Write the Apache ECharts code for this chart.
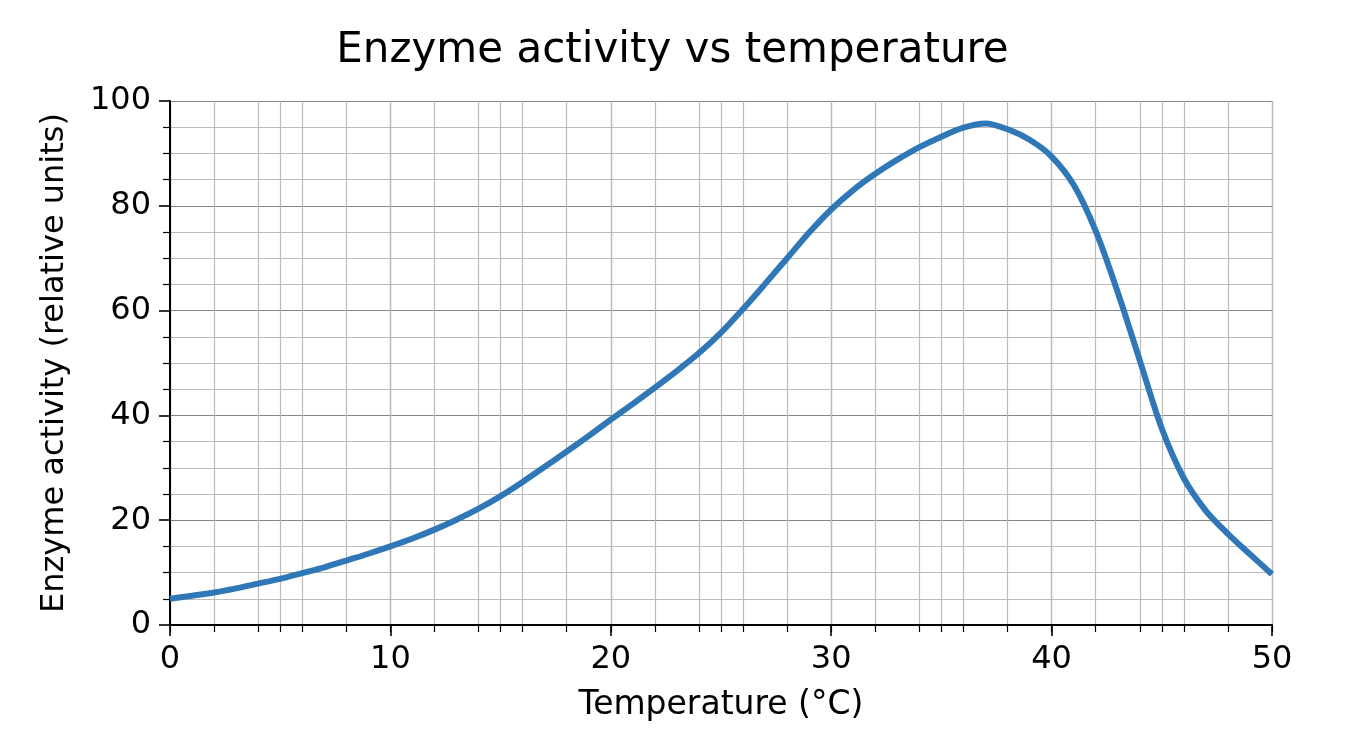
<!doctype html>
<html lang="en">
<head>
  <meta charset="UTF-8">
  <title>Enzyme activity vs temperature</title>
  <script src="https://cdn.jsdelivr.net/npm/echarts@6/dist/echarts.min.js"></script>
  <style>
    * {
      margin: 0;
      padding: 0;
      box-sizing: border-box;
    }

    html, body {
      background: #fff;
    }

    #chart {
      width: 1345px;
      height: 742px;
    }
  </style>
</head>
<body>
<div id="chart"></div>
<script>
  // values, one per degree
  const temps = [0, 1, 2, 3, 4, 5, 6, 7, 8, 9, 10, 11, 12, 13, 14, 15, 16, 17, 18, 19, 20, 21, 22, 23, 24, 25,
    26, 27, 28, 29, 30, 31, 32, 33, 34, 35, 36, 37, 38, 39, 40, 41, 42, 43, 44, 45, 46, 47, 48, 49, 50]
  const activity = [5.0, 5.6, 6.2, 7.0, 7.9, 8.8, 9.9, 11.0, 12.3, 13.6, 15.0, 16.5, 18.2, 20.1, 22.2, 24.6,
    27.3, 30.2, 33.1, 36.1, 39.2, 42.2, 45.3, 48.5, 51.9, 55.8, 60.3, 65.1, 70.0, 74.9, 79.3, 83.0, 86.1,
    88.8, 91.2, 93.2, 94.9, 95.7, 94.6, 92.6, 89.4, 84.0, 75.2, 63.5, 50.5, 37.5, 28.0, 21.8, 17.4, 13.5, 9.7]
  const xTicks = [0, 10, 20, 30, 40, 50]
  const yTicks = [0, 20, 40, 60, 80, 100]

  const font = 'DejaVu Sans'
  const points = temps.map((t, i) => [t, activity[i]])

  const chart = echarts.init(document.getElementById('chart'))

  const option = {
    backgroundColor: '#fff',
    animation: false,
    title: {
      text: 'Enzyme activity vs temperature',
      left: 'center',
      top: 25,
      textStyle: {fontFamily: font, fontSize: 42, fontWeight: 'normal', color: '#000'}
    },
    grid: {left: 170, right: 73, top: 101, bottom: 117},
    xAxis: [
      {
        type: 'value',
        min: xTicks[0],
        max: xTicks[xTicks.length - 1],
        interval: 10,
        name: 'Temperature (°C)',
        nameLocation: 'middle',
        nameGap: 64,
        nameTextStyle: {fontFamily: font, fontSize: 33, color: '#000'},
        axisLine: {onZero: false, lineStyle: {color: '#000', width: 2}},
        axisTick: {length: 11, lineStyle: {color: '#000', width: 1.6}},
        minorTick: {show: true, splitNumber: 5, length: 7, lineStyle: {color: '#000', width: 1.2}},
        axisLabel: {fontFamily: font, fontSize: 32, color: '#000', margin: 19},
        splitLine: {show: true, lineStyle: {color: '#858585', width: 1.2}},
        minorSplitLine: {show: true, lineStyle: {color: '#bbbbbb', width: 1.2}}
      },
      {
        // extra grid lines and ticks at every 5 degrees
        type: 'value',
        position: 'bottom',
        min: 0,
        max: 50,
        interval: 5,
        axisLine: {show: false},
        axisTick: {length: 7, lineStyle: {color: '#000', width: 1.2}},
        axisLabel: {show: false},
        splitLine: {show: true, lineStyle: {color: '#bbbbbb', width: 1.2}}
      }
    ],
    yAxis: {
      type: 'value',
      min: yTicks[0],
      max: yTicks[yTicks.length - 1],
      interval: 20,
      name: 'Enzyme activity (relative units)',
      nameLocation: 'middle',
      nameGap: 99,
      nameTextStyle: {fontFamily: font, fontSize: 32, color: '#000'},
      axisLine: {show: true, onZero: false, lineStyle: {color: '#000', width: 2}},
      axisTick: {show: true, length: 11, lineStyle: {color: '#000', width: 1.6}},
      minorTick: {show: true, splitNumber: 4, length: 7, lineStyle: {color: '#000', width: 1.2}},
      axisLabel: {fontFamily: font, fontSize: 32, color: '#000', margin: 19},
      splitLine: {show: true, lineStyle: {color: '#858585', width: 1.2}},
      minorSplitLine: {show: true, lineStyle: {color: '#bbbbbb', width: 1.2}}
    },
    series: [
      {
        type: 'line',
        xAxisIndex: 0,
        data: points,
        smooth: 0.3,
        showSymbol: false,
        lineStyle: {color: '#2f77b6', width: 6},
        z: 5
      }
    ]
  }
  chart.setOption(option)
</script>
</body>
</html>
